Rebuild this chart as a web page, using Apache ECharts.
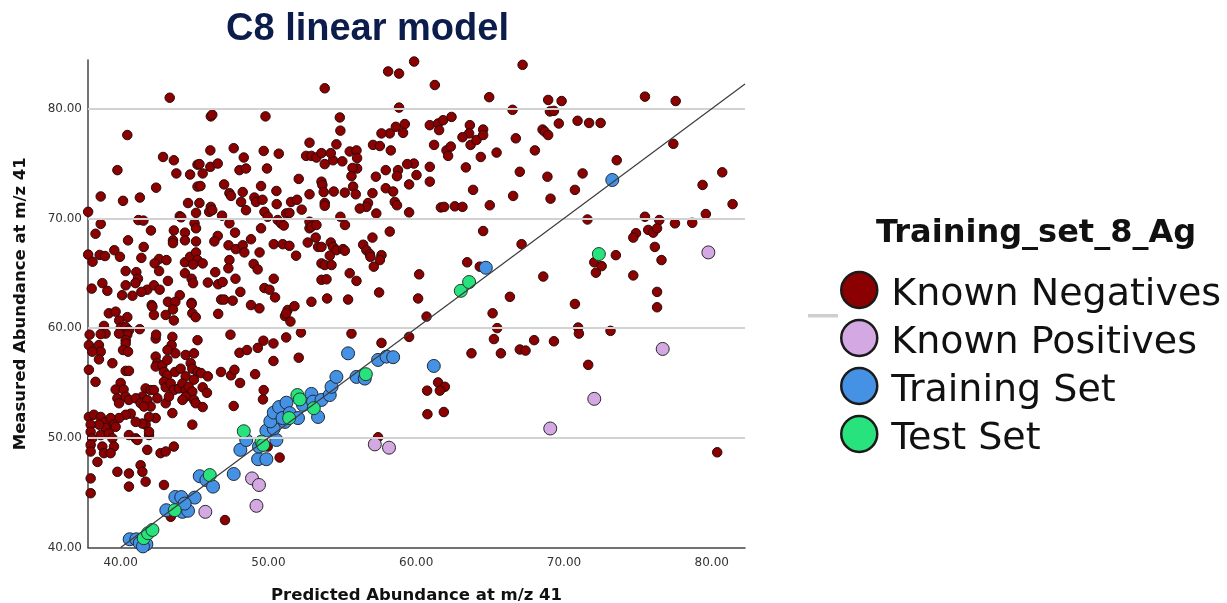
<!DOCTYPE html>
<html>
<head>
<meta charset="utf-8">
<script src="https://cdn.jsdelivr.net/npm/echarts@6/dist/echarts.min.js"></script>
<style>
html,body{margin:0;padding:0;background:#fff;}
#chart{width:1227px;height:603px;}
</style>
</head>
<body>
<div id="chart"></div>
<script>
// ---- data ----
const seriesNames = ['Known Negatives', 'Known Positives', 'Training Set', 'Test Set'];
const xTicks = [40, 50, 60, 70, 80];
const yTicks = [40, 50, 60, 70, 80];
const gridLines = [50, 60, 70, 80];
const fitLine = [[40, 40], [82.25, 82.25]];

const knownNegatives = [
[43.32,81.0],[40.45,77.6],[42.87,75.6],[43.6,75.3],[39.78,74.4],[43.77,74.1],[44.7,74.0],[45.2,74.9],[42.4,72.8],[38.65,72.0],[40.16,71.6],[41.3,71.9],[37.8,70.6],[44.56,71.4],[45.2,72.9],[44.0,70.2],[44.1,70.1],[45.1,70.5],[38.65,69.5],[41.2,69.85],[41.54,69.8],[38.3,68.6],[42.05,68.9],[43.6,68.9],[44.35,68.7],[45.0,69.55],[45.1,69.1],[40.5,68.0],[43.54,68.0],[43.54,67.75],[44.35,68.0],[41.56,67.4],[45.1,67.9],[37.8,66.7],[38.58,66.67],[38.94,66.57],[39.57,67.1],[39.95,66.5],[41.4,66.4],[42.6,66.3],[43.1,66.2],[42.3,65.9],[38.1,66.05],[44.35,66.0],[44.7,66.5],[45.1,66.9],[45.2,66.2],[44.9,65.8],[42.6,65.2],[40.34,65.2],[41.06,65.1],[41.17,64.5],[41.0,64.1],[44.35,65.0],[44.8,64.5],[44.9,64.1],[38.76,64.1],[40.34,63.9],[38.04,63.6],[39.1,63.4],[41.8,63.5],[42.25,63.9],[42.64,63.5],[43.2,64.3],[40.1,63.0],[40.8,62.95],[41.4,63.3],[44.0,63.0],[43.2,62.4],[43.7,62.4],[44.8,62.3],[42.1,62.1],
[42.15,61.95],[42.25,61.2],[43.05,61.2],[43.54,61.7],[43.6,60.7],[44.8,62.2],[44.85,61.35],[45.08,61.0],[39.2,61.35],[39.66,61.5],[40.45,61.0],[39.9,60.7],[38.87,60.2],[38.98,59.5],[38.65,59.45],[40.0,60.0],[40.34,60.1],[40.56,59.8],[40.45,59.4],[39.89,59.5],[41.29,59.9],[37.9,59.4],[37.85,58.45],[38.53,58.45],[38.65,57.85],[38.08,57.85],[40.34,58.9],[40.34,58.6],[40.16,58.0],[40.5,57.85],[42.37,59.05],[42.4,59.4],[43.5,59.2],[43.45,58.45],[43.7,57.7],[43.17,58.0],[44.4,57.55],[44.96,57.7],[45.2,58.9],[38.53,57.15],[39.44,56.8],[37.85,56.2],[40.34,56.1],[40.56,56.1],[42.37,57.4],[42.48,56.8],[42.37,56.5],[42.82,56.6],[42.93,56.0],[43.16,55.7],[43.68,56.0],[44.06,56.3],[43.16,57.1],[44.74,56.8],[44.85,56.3],[45.2,56.0],[44.4,55.6],[44.96,55.3],[38.3,55.1],[40.0,55.0],[39.66,54.4],[40.2,54.4],[39.78,53.6],[40.34,53.75],[40.56,53.45],[39.89,53.15],[41.69,54.5],[42.03,54.35],[42.25,54.35],[41.47,53.75],[41.02,53.6],[41.35,53.15],[41.8,53.45],[42.03,52.85],[41.58,52.85],[42.93,55.1],[43.05,54.6],[43.39,54.95],[43.6,54.35],[43.95,54.5],[44.18,54.95],[44.4,54.35],[44.6,54.65],[44.85,54.2],[44.4,53.75],[44.18,53.45],[44.96,53.45],[45.08,53.15],[43.05,53.15],[43.27,53.75],[42.48,53.6],[43.5,52.25],[44.85,51.2],[42.37,51.8],[41.92,51.9],[41.69,51.2],[41.47,51.3],[41.02,51.45],[40.68,52.2],[40.34,52.1],[39.89,51.8],[37.85,51.9],[38.19,52.1],[38.65,51.9],[38.98,51.45],[39.32,51.8],[39.55,51.2],[38.98,50.9],[38.53,51.2],[37.97,51.2],[37.97,50.55],[38.08,49.95],[38.65,50.25],[39.2,50.4],[39.44,49.95],[39.66,51.0],[40.56,50.25],[41.02,49.95],[41.13,49.8],[41.92,50.25],[41.92,50.55],[37.97,49.35],[37.97,48.75],[38.76,49.2],[38.87,48.6],[39.55,49.2],[39.32,48.6],[38.43,47.8],[41.8,48.9],[42.7,48.6],[43.05,48.75],[43.6,49.2],[41.35,47.5],[41.47,46.9],[39.78,46.9],[40.56,46.75],[41.69,46.0],[40.56,45.55],[42.93,45.7],[37.97,46.3],[37.97,44.95],[43.39,42.8],[37.75,40.7],
[46.1,79.3],[46.2,79.45],[49.8,79.3],[46.07,76.2],[47.65,76.4],[49.68,76.15],[50.7,75.9],[48.33,75.55],[52.78,76.9],[52.55,75.7],[45.33,74.95],[45.55,74.1],[46.07,74.7],[46.57,75.0],[48.04,74.4],[48.48,74.55],[49.9,74.55],[52.05,73.6],[45.4,72.95],[47.0,73.1],[49.5,72.95],[47.36,72.3],[47.47,72.05],[48.26,72.4],[50.54,72.5],[52.78,72.2],[45.33,71.4],[46.1,71.05],[45.99,70.6],[46.2,70.75],[48.15,71.5],[48.48,70.75],[49.05,71.9],[49.16,71.5],[49.6,71.7],[50.56,71.3],[49.73,70.6],[49.95,70.15],[51.53,71.5],[51.94,71.7],[52.25,70.8],[51.2,70.45],[51.42,70.5],[50.63,69.85],[50.85,69.55],[51.04,69.35],[46.86,70.25],[47.36,69.55],[47.74,68.7],[49.5,69.1],[52.78,69.7],[52.78,69.1],[46.57,68.4],[46.34,67.9],[48.82,68.1],[47.3,67.55],[47.8,67.2],[48.26,67.55],[48.37,66.9],[49.4,66.9],[50.36,67.65],[50.97,67.65],[51.42,67.5],[51.87,66.6],[52.66,67.8],[45.55,65.9],[47.36,66.2],[47.29,65.45],[49.0,65.85],[49.27,65.35],[46.4,65.1],[45.9,64.15],[46.6,64.0],[46.9,64.2],[47.77,64.5],[48.1,63.3],[50.36,64.5],[49.73,63.65],[50.07,63.5],[50.45,62.8],[46.8,62.6],[47.0,62.6],[47.58,62.5],
[48.82,62.1],[49.39,61.8],[46.6,61.3],[51.3,61.65],[51.76,62.0],[51.12,61.1],[51.49,60.6],[51.2,61.35],[47.43,59.4],[48.04,57.75],[48.55,58.0],[49.28,58.2],[49.66,58.85],[50.34,58.6],[51.2,59.15],[52.2,59.6],[50.34,57.0],[52.05,57.3],[45.44,55.9],[45.9,55.6],[46.79,56.0],[47.47,55.7],[47.7,56.2],[48.08,55.0],[49.1,55.8],[45.55,54.6],[45.84,54.1],[45.55,52.8],[49.68,54.35],[49.63,53.5],[47.65,52.9],[50.76,48.2],[49.95,49.2],[47.06,42.5],
[53.81,81.86],[58.1,83.4],[58.84,83.2],[58.84,80.1],[58.62,78.35],[59.23,78.6],[59.11,77.8],[58.21,77.75],[57.65,77.75],[57.08,76.7],[57.54,76.6],[58.28,76.2],[54.83,79.2],[54.87,78.0],[54.6,76.75],[52.91,75.7],[53.25,75.55],[53.59,75.95],[54.37,75.3],[54.22,75.95],[53.81,74.95],[55.0,75.2],[55.5,76.1],[55.96,76.2],[56.0,75.5],[56.0,74.55],[55.69,74.6],[55.62,73.85],[55.73,72.9],[55.91,72.2],[57.27,73.8],[57.94,74.4],[58.77,74.4],[58.7,73.85],[57.94,72.75],[58.44,72.45],[58.55,71.5],[58.7,71.2],[59.52,73.1],[60.02,73.95],[59.84,75.0],[59.39,74.95],[59.52,70.55],[57.3,70.45],[56.74,71.4],[56.63,71.05],[56.18,70.9],[57.04,72.3],[53.59,73.35],[53.65,73.05],[53.74,72.4],[54.42,72.45],[53.81,71.4],[53.81,71.15],[55.17,72.35],[54.87,70.15],[55.18,69.4],[52.91,69.25],[53.25,69.4],[53.2,68.25],[53.36,67.4],[53.59,67.4],[54.22,67.8],[54.37,67.4],[54.6,67.1],[55.05,67.2],[55.17,67.05],[54.15,66.6],[53.59,65.9],[53.81,65.75],[54.27,65.75],[56.41,67.6],[56.63,67.1],[56.86,66.75],[56.9,66.5],[57.65,66.65],[57.54,66.2],[57.04,68.25],[57.13,65.6],[55.5,65.0],[55.96,64.3],[53.59,64.4],[53.93,64.45],[53.97,62.7],[55.39,62.6],[57.49,63.25],[60.2,64.9],[60.13,62.7],[52.91,62.4],
[55.62,59.5],[57.65,58.65],[59.52,59.2],[57.42,50.05],
[59.86,84.3],[67.2,84.0],[61.26,82.16],[64.94,81.05],[66.52,79.9],[68.93,80.8],[69.84,80.7],[69.05,79.75],[69.32,79.8],[69.65,78.65],[70.92,78.9],[71.7,78.7],[72.48,78.7],[75.48,81.1],[77.56,80.7],[60.92,78.5],[61.48,78.65],[61.82,78.95],[62.39,79.25],[61.55,78.05],[61.21,76.7],[63.63,78.5],[63.58,77.75],[63.13,77.4],[63.68,76.7],[64.08,77.15],[64.53,78.1],[64.53,77.6],[64.37,75.6],[62.05,76.2],[62.16,75.7],[62.34,76.55],[65.44,76.0],[66.74,77.3],[68.03,76.2],[68.55,78.1],[68.7,77.9],[68.93,77.6],[73.57,75.3],[77.4,76.8],[80.71,74.2],[79.38,73.05],[81.41,71.3],[79.6,70.4],[78.68,69.6],[77.51,69.55],[75.48,70.15],[76.45,69.85],[75.7,68.95],[76.04,68.7],[76.3,69.1],[74.87,68.65],[74.69,68.25],[76.15,67.4],[76.6,66.2],[73.51,66.65],[74.69,64.8],[76.3,63.3],[76.3,61.9],[71.59,69.9],[70.74,72.6],[71.26,74.1],[68.88,73.8],[69.09,71.8],[67.01,74.25],[66.56,72.05],[64.98,71.2],[63.85,72.6],[63.36,74.65],[60.92,74.7],[60.92,73.35],[61.67,71.0],[61.89,71.05],[62.61,71.1],[63.13,71.05],[64.53,68.85],[67.13,67.65],[63.45,66.0],[64.3,65.6],[66.34,62.85],[68.6,64.7],[70.74,62.2],[72.05,66.0],[72.55,65.65],[72.16,65.05],[58.21,68.8],
[60.7,61.05],[63.74,57.7],[65.17,61.35],[65.48,60.0],[65.26,59.0],[65.73,57.7],[67.01,58.05],[67.4,57.95],[67.98,58.9],[69.32,58.8],[70.96,60.05],[71.01,59.5],[73.15,59.75],[71.64,56.65],[60.74,54.3],[61.48,55.05],[61.94,54.65],[61.6,54.3],[60.76,52.15],[61.87,52.35],[80.37,48.68]
];

const knownPositives = [
[45.73,43.25],[48.89,46.3],[49.36,45.7],[49.19,43.8],[57.2,49.4],[58.16,49.1],[79.77,66.9],[76.68,58.1],[72.05,53.55],[69.07,50.85]
];

const trainingSet = [
[40.61,40.75],[41.06,40.75],[41.29,40.4],[41.74,40.3],[41.51,40.1],[43.09,43.4],[43.7,44.6],[44.18,43.25],[44.1,44.6],[44.56,43.35],[45.01,44.55],[44.33,44.0],[45.35,46.5],[45.8,46.15],[46.25,45.55],[47.65,46.7],[48.1,48.9],[48.5,49.8],[49.3,48.05],[49.86,48.05],[49.36,49.2],[49.86,50.65],[50.54,49.8],[50.36,50.85],[50.13,51.5],[51.12,51.45],[50.36,52.3],[50.72,52.8],[51.22,53.2],[50.95,51.8],[51.44,52.25],[52.0,51.8],[52.34,53.0],[52.91,54.0],[53.36,51.9],[53.02,53.3],[53.59,53.45],[54.15,53.9],[54.27,54.65],[54.6,55.55],[55.39,57.7],[55.96,55.55],[56.52,55.4],[57.42,57.1],[57.99,57.4],[58.44,57.35],[61.19,56.55],[64.71,65.5],[73.27,73.5]
];

const testSet = [
[41.56,40.85],[41.85,41.3],[42.15,41.6],[43.66,43.4],[46.03,46.6],[48.33,50.6],[49.53,49.65],[49.64,49.35],[51.4,51.8],[51.96,53.9],[52.12,53.5],[53.07,52.7],[56.59,55.8],[63.02,63.4],[63.58,64.2],[72.36,66.75]
];

// ---- chart ----
const chart = echarts.init(document.getElementById('chart'), null, {renderer: 'canvas'});
const fmt = v => Number(v).toFixed(2);
const tickLabel = {fontFamily: 'DejaVu Sans', fontSize: 12, color: '#333'};
const axisTitle = {fontFamily: 'DejaVu Sans', fontWeight: 'bold', fontSize: 16.5, color: '#111', verticalAlign: 'middle'};

chart.setOption({
  animation: false,
  backgroundColor: '#ffffff',
  title: [
    {text: 'C8 linear model', left: 226, top: 11, padding: 0,
     textStyle: {fontFamily: 'Liberation Sans', fontWeight: 'bold', fontSize: 38, color: '#0c1d4c'}},
    {text: 'Training_set_8_Ag', left: 876, top: 218, padding: 0,
     textStyle: {fontFamily: 'DejaVu Sans', fontWeight: 'bold', fontSize: 32, color: '#111'}}
  ],
  legend: {
    data: seriesNames,
    orient: 'vertical',
    left: 840, top: 266, padding: 0,
    itemWidth: 54, itemHeight: 36, itemGap: 0,
    icon: 'circle',
    itemStyle: {borderWidth: 2.5, borderColor: '#1a1a1a'},
    formatter: name => '{t|' + name + '}',
    textStyle: {
      fontFamily: 'DejaVu Sans', fontSize: 38, color: '#111',
      rich: {t: {fontFamily: 'DejaVu Sans', fontSize: 38, color: '#111', lineHeight: 36, padding: [10, 0, 0, 0]}}
    },
    selectedMode: false
  },
  grid: {left: 88, right: 482, top: 60, bottom: 55.5, containLabel: false, outerBoundsMode: 'none'},
  xAxis: {
    type: 'value', min: 37.79, max: 82.25,
    name: 'Predicted Abundance at m/z 41', nameLocation: 'middle', nameGap: 48,
    nameTextStyle: axisTitle,
    axisLine: {show: true, lineStyle: {color: '#444', width: 1.5}},
    axisTick: {show: false},
    splitLine: {show: false},
    axisLabel: Object.assign({customValues: xTicks, formatter: fmt, margin: 9}, tickLabel)
  },
  yAxis: {
    type: 'value', min: 40, max: 84.44,
    name: 'Measured Abundance at m/z 41', nameLocation: 'middle', nameGap: 67,
    nameTextStyle: axisTitle,
    axisLine: {show: true, lineStyle: {color: '#444', width: 1.5}},
    axisTick: {show: false},
    splitLine: {show: false},
    axisLabel: Object.assign({customValues: yTicks, formatter: fmt, margin: 6}, tickLabel)
  },
  series: [
    {name: 'gridlines', type: 'line', data: [], z: 0, silent: true,
     markLine: {silent: true, symbol: ['none', 'none'], label: {show: false},
       lineStyle: {color: '#d2d2d2', width: 2, type: 'solid'},
       data: gridLines.map(v => ({yAxis: v}))}},
    {name: 'Known Negatives', type: 'scatter', data: knownNegatives, symbolSize: 9.5, z: 2,
     itemStyle: {color: '#8b0000', borderColor: '#2a0a0a', borderWidth: 1, opacity: 1}},
    {name: 'Known Positives', type: 'scatter', data: knownPositives, symbolSize: 13, z: 3,
     itemStyle: {color: '#d4a8e2', borderColor: '#2a2a2a', borderWidth: 1, opacity: 1}},
    {name: 'Training Set', type: 'scatter', data: trainingSet, symbolSize: 13, z: 3,
     itemStyle: {color: '#4592e4', borderColor: '#1f2a3a', borderWidth: 1, opacity: 1}},
    {name: 'Test Set', type: 'scatter', data: testSet, symbolSize: 13, z: 4,
     itemStyle: {color: '#27e27d', borderColor: '#1f3a2a', borderWidth: 1, opacity: 1}},
    {name: 'fit', type: 'line', data: fitLine, z: 5, symbol: 'none', silent: true,
     lineStyle: {color: '#3c3c3c', width: 1.2}}
  ],
  graphic: [
    {type: 'rect', shape: {x: 808, y: 314, width: 30, height: 3.5}, style: {fill: '#cfcfcf'}, silent: true}
  ]
});
</script>
</body>
</html>
